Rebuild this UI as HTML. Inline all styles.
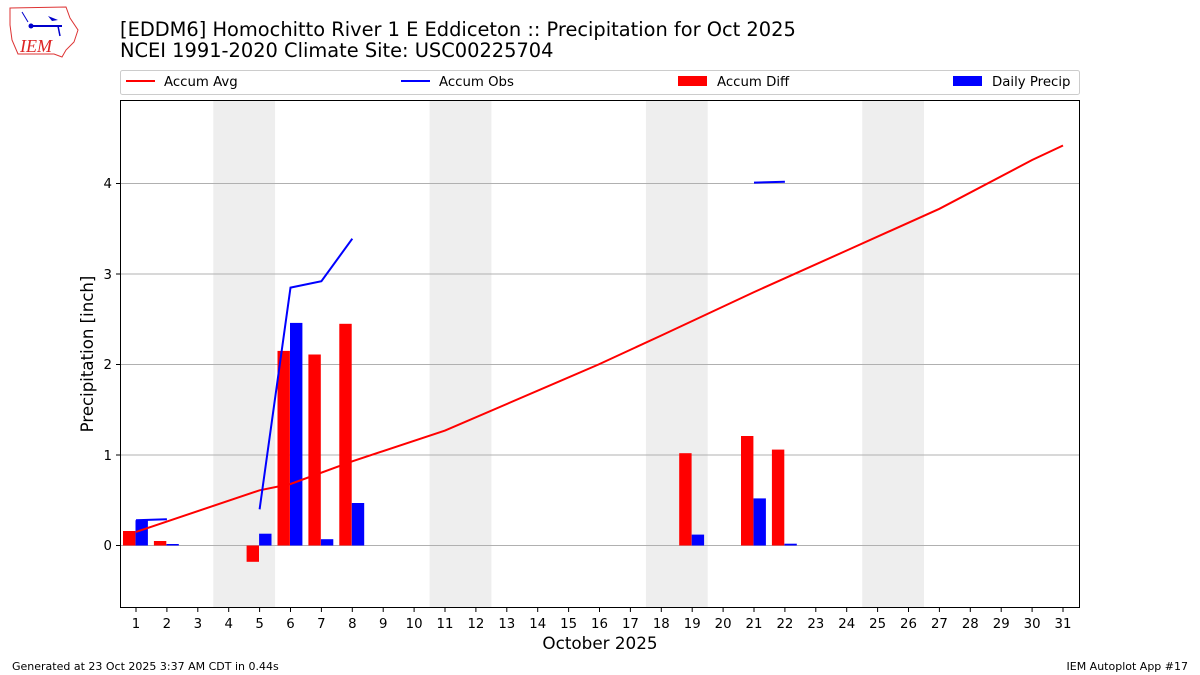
<!DOCTYPE html>
<html><head><meta charset="utf-8"><style>
html,body{margin:0;padding:0;background:#fff;}
svg{display:block;font-family:"DejaVu Sans","Liberation Sans",sans-serif;}
</style></head><body>
<svg width="1200" height="675" viewBox="0 0 1200 675" xmlns="http://www.w3.org/2000/svg">
<g>
<path d="M10,8 L66,7 L70,18 L78,30 L74,42 L66,50 L62,57 L54,54 L18,54 L12,40 L10,25 Z" fill="none" stroke="#d33" stroke-width="1"/>
<line x1="30" y1="26" x2="62" y2="26" stroke="#00c" stroke-width="2"/>
<circle cx="31" cy="26" r="2.5" fill="#00c"/>
<path d="M48,16 L58,20 L52,21 Z" fill="#00c"/>
<line x1="58" y1="26" x2="60" y2="36" stroke="#00c" stroke-width="1.5"/>
<line x1="22" y1="12" x2="28" y2="22" stroke="#00c" stroke-width="1"/>
<text x="20" y="52" font-family="Liberation Serif,serif" font-style="italic" font-size="18" fill="#d22">IEM</text>
</g>
<text x="120" y="36" font-size="19.4" fill="#000">[EDDM6] Homochitto River 1 E Eddiceton :: Precipitation for Oct 2025</text>
<text x="120" y="57" font-size="19.4" fill="#000">NCEI 1991-2020 Climate Site: USC00225704</text>
<rect x="120.5" y="70.5" width="959" height="24" rx="2" fill="#fff" stroke="#ccc"/>
<line x1="126" y1="81" x2="155" y2="81" stroke="red" stroke-width="2"/>
<text x="164" y="86" font-size="13.3">Accum Avg</text>
<line x1="401" y1="81" x2="430" y2="81" stroke="blue" stroke-width="2"/>
<text x="439" y="86" font-size="13.3">Accum Obs</text>
<rect x="678" y="76" width="29" height="10" fill="red"/>
<text x="717" y="86" font-size="13.3">Accum Diff</text>
<rect x="953" y="76" width="29" height="10" fill="blue"/>
<text x="992" y="86" font-size="13.3">Daily Precip</text>
<g fill="#eeeeee">
<rect x="213.3" y="100" width="61.8" height="508"/>
<rect x="429.6" y="100" width="61.8" height="508"/>
<rect x="645.9" y="100" width="61.8" height="508"/>
<rect x="862.2" y="100" width="61.8" height="508"/>
</g>
<g stroke="#b0b0b0" stroke-width="1">
<line x1="121" y1="545.5" x2="1080" y2="545.5"/>
<line x1="121" y1="455" x2="1080" y2="455"/>
<line x1="121" y1="364.5" x2="1080" y2="364.5"/>
<line x1="121" y1="274" x2="1080" y2="274"/>
<line x1="121" y1="183.5" x2="1080" y2="183.5"/>
</g>
<g fill="red">
<rect x="123" y="531" width="12.4" height="14.5"/>
<rect x="153.9" y="541" width="12.4" height="4.5"/>
<rect x="246.6" y="545.5" width="12.4" height="16.3"/>
<rect x="277.5" y="350.9" width="12.4" height="194.6"/>
<rect x="308.4" y="354.5" width="12.4" height="191"/>
<rect x="339.3" y="323.8" width="12.4" height="221.7"/>
<rect x="679.2" y="453.2" width="12.4" height="92.3"/>
<rect x="741" y="436" width="12.4" height="109.5"/>
<rect x="771.9" y="449.6" width="12.4" height="95.9"/>
</g>
<g fill="blue">
<rect x="135.5" y="520.2" width="12.4" height="25.3"/>
<rect x="166.4" y="544" width="12.4" height="1.5"/>
<rect x="259.1" y="533.7" width="12.4" height="11.8"/>
<rect x="290" y="322.9" width="12.4" height="222.6"/>
<rect x="320.9" y="539.2" width="12.4" height="6.3"/>
<rect x="351.8" y="503" width="12.4" height="42.5"/>
<rect x="691.7" y="534.6" width="12.4" height="10.9"/>
<rect x="753.5" y="498.4" width="12.4" height="47.1"/>
<rect x="784.4" y="543.7" width="12.4" height="1.8"/>
</g>
<polyline fill="none" stroke="red" stroke-width="2" points="136,531.9 259.6,490.3 290.5,484 352.3,461.3 445,430.6 598.5,364.5 661.3,335.5 754,292.1 846.7,250.5 939.4,208.8 1032.1,160 1063,145.5"/>
<polyline fill="none" stroke="blue" stroke-width="2" points="136,520.2 166.9,519.3"/>
<polyline fill="none" stroke="blue" stroke-width="2" points="259.6,509.3 290.5,287.6 321.4,281.2 352.3,238.7"/>
<polyline fill="none" stroke="blue" stroke-width="2" points="754,182.6 784.9,181.7"/>
<rect x="120.5" y="100.5" width="959" height="507" fill="none" stroke="#000" stroke-width="1"/>
<g stroke="#000"><line x1="116" y1="545.5" x2="120.5" y2="545.5"/><line x1="116" y1="455" x2="120.5" y2="455"/><line x1="116" y1="364.5" x2="120.5" y2="364.5"/><line x1="116" y1="274" x2="120.5" y2="274"/><line x1="116" y1="183.5" x2="120.5" y2="183.5"/></g>
<g font-size="13.3" text-anchor="end"><text x="112" y="550">0</text><text x="112" y="460">1</text><text x="112" y="369">2</text><text x="112" y="279">3</text><text x="112" y="188">4</text></g>
<text transform="translate(93,354) rotate(-90)" font-size="16.6" text-anchor="middle">Precipitation [inch]</text>
<g stroke="#000">
<line x1="136" y1="608" x2="136" y2="612"/><line x1="166.9" y1="608" x2="166.9" y2="612"/><line x1="197.8" y1="608" x2="197.8" y2="612"/><line x1="228.7" y1="608" x2="228.7" y2="612"/><line x1="259.6" y1="608" x2="259.6" y2="612"/><line x1="290.5" y1="608" x2="290.5" y2="612"/><line x1="321.4" y1="608" x2="321.4" y2="612"/><line x1="352.3" y1="608" x2="352.3" y2="612"/><line x1="383.2" y1="608" x2="383.2" y2="612"/><line x1="414.1" y1="608" x2="414.1" y2="612"/><line x1="445" y1="608" x2="445" y2="612"/><line x1="475.9" y1="608" x2="475.9" y2="612"/><line x1="506.8" y1="608" x2="506.8" y2="612"/><line x1="537.7" y1="608" x2="537.7" y2="612"/><line x1="568.6" y1="608" x2="568.6" y2="612"/><line x1="599.5" y1="608" x2="599.5" y2="612"/><line x1="630.4" y1="608" x2="630.4" y2="612"/><line x1="661.3" y1="608" x2="661.3" y2="612"/><line x1="692.2" y1="608" x2="692.2" y2="612"/><line x1="723.1" y1="608" x2="723.1" y2="612"/><line x1="754" y1="608" x2="754" y2="612"/><line x1="784.9" y1="608" x2="784.9" y2="612"/><line x1="815.8" y1="608" x2="815.8" y2="612"/><line x1="846.7" y1="608" x2="846.7" y2="612"/><line x1="877.6" y1="608" x2="877.6" y2="612"/><line x1="908.5" y1="608" x2="908.5" y2="612"/><line x1="939.4" y1="608" x2="939.4" y2="612"/><line x1="970.3" y1="608" x2="970.3" y2="612"/><line x1="1001.2" y1="608" x2="1001.2" y2="612"/><line x1="1032.1" y1="608" x2="1032.1" y2="612"/><line x1="1063" y1="608" x2="1063" y2="612"/>
</g>
<g font-size="13.3" text-anchor="middle">
<text x="136" y="628">1</text><text x="166.9" y="628">2</text><text x="197.8" y="628">3</text><text x="228.7" y="628">4</text><text x="259.6" y="628">5</text><text x="290.5" y="628">6</text><text x="321.4" y="628">7</text><text x="352.3" y="628">8</text><text x="383.2" y="628">9</text><text x="414.1" y="628">10</text><text x="445" y="628">11</text><text x="475.9" y="628">12</text><text x="506.8" y="628">13</text><text x="537.7" y="628">14</text><text x="568.6" y="628">15</text><text x="599.5" y="628">16</text><text x="630.4" y="628">17</text><text x="661.3" y="628">18</text><text x="692.2" y="628">19</text><text x="723.1" y="628">20</text><text x="754" y="628">21</text><text x="784.9" y="628">22</text><text x="815.8" y="628">23</text><text x="846.7" y="628">24</text><text x="877.6" y="628">25</text><text x="908.5" y="628">26</text><text x="939.4" y="628">27</text><text x="970.3" y="628">28</text><text x="1001.2" y="628">29</text><text x="1032.1" y="628">30</text><text x="1063" y="628">31</text>
</g>
<text x="600" y="649" font-size="16.8" text-anchor="middle">October 2025</text>
<text x="12" y="670" font-size="11">Generated at 23 Oct 2025 3:37 AM CDT in 0.44s</text>
<text x="1188" y="670" font-size="11" text-anchor="end">IEM Autoplot App #17</text>
</svg>
</body></html>
